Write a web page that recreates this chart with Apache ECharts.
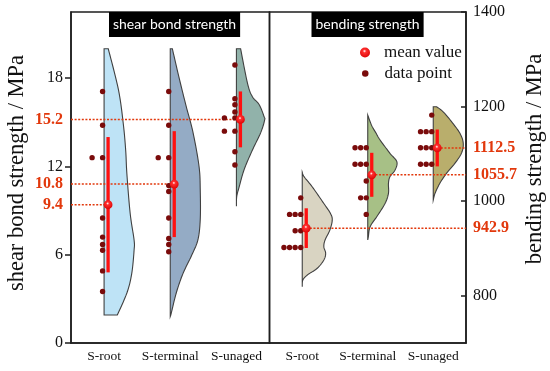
<!DOCTYPE html>
<html><head><meta charset="utf-8">
<script src="https://cdn.jsdelivr.net/npm/echarts@6/dist/echarts.min.js"></script>
<style>html,body{margin:0;padding:0;background:#fff}#c{width:550px;height:371px}</style>
</head><body><div id="c"></div>
<script>
// ---------------- data ----------------
const categories = ['S-root', 'S-terminal', 'S-unaged'];
const shearTicks = [0, 6, 12, 18];
const bendTicks = [800, 1000, 1200, 1400];

const shearRootPoints = [17.1, 14.8, 12.6, 12.6, 8.5, 7.2, 6.7, 6.3, 4.9, 3.5];
const shearTerminalPoints = [17.1, 14.8, 12.6, 12.6, 10.7, 10.3, 8.5, 7.1, 6.7, 6.2];
const shearUnagedPoints = [18.9, 16.6, 16.2, 15.7, 15.3, 15.3, 14.4, 14.4, 13.0, 12.1];

const bendRootPoints = [1007, 972, 972, 972, 937.5, 937.5, 902, 902, 902, 902];
const bendTerminalPoints = [1113, 1113, 1113, 1078, 1078, 1078, 1042.5, 1007, 1007, 972];
const bendUnagedPoints = [1182, 1147, 1147, 1147, 1113, 1113, 1113, 1078, 1078, 1078];

const shearMeans = [9.4, 10.8, 15.2];
const shearSD = [4.6, 3.6, 1.9];
const bendMeans = [942.9, 1055.7, 1112.5];
const bendSD = [42, 46.5, 39];

// violin outlines: [value, relative density]
const shearRootViolin = [[20.0,0.14],[17.2,0.48],[14.9,0.64],[13.1,0.72],[11.5,0.76],[8.8,0.87],[7.0,1.0],[6.3,1.0],[4.7,0.92],[3.4,0.76],[1.9,0.44]];
const shearTerminalViolin = [[20.0,0.07],[17.9,0.31],[16.1,0.53],[14.3,0.76],[12.0,0.96],[10.4,1.0],[8.4,1.0],[7.0,0.92],[5.9,0.70],[4.7,0.42],[3.4,0.2],[2.0,0.03],[1.8,0]];
const shearUnagedViolin = [[20.0,0.14],[17.65,0.37],[16.75,0.53],[16.2,0.76],[15.4,0.92],[15.15,0.94],[14.3,0.81],[13.1,0.53],[11.8,0.26],[10.6,0.09],[9.95,0.01],[9.3,0]];

const bendRootViolin = [[1061,0],[1051.7,0.06],[1030.5,0.33],[995,0.72],[974,0.94],[960,1.0],[938.9,0.92],[917.7,0.76],[903.6,0.72],[889.7,0.78],[875.5,0.72],[858,0.5],[843.8,0.17],[833,0.02],[819,0]];
const bendTerminalViolin = [[1182,0],[1160,0.13],[1143.4,0.28],[1129.3,0.41],[1101.2,0.74],[1083.4,0.97],[1065.8,0.91],[1051.7,0.74],[1037.7,0.69],[1016.6,0.69],[995.4,0.58],[967.1,0.3],[946,0.08],[924.8,0.02],[917.8,0]];
const bendUnagedViolin = [[1199.7,0.11],[1189,0.33],[1168,0.61],[1143.4,0.89],[1122.3,1.0],[1101.2,0.94],[1080,0.72],[1058.8,0.44],[1037.7,0.22],[1016.6,0.06],[1002.4,0]];

// ---------------- styles ----------------
const shearColors = ['#bee3f6', '#94abc5', '#91b2aa'];
const bendColors = ['#d9d4c2', '#a7c086', '#b9ae6c'];
const VIOLIN_W = 30;
const MEAN_DX = 4;
const DOT_COLOR = '#7a0b0b';
const REF_COLOR = '#e2380c';
const SERIF = 'Liberation Serif';
const ballGrad = {type:'radial', x:0.45, y:0.36, r:0.7, colorStops:[
  {offset:0, color:'#ffffff'},{offset:0.08, color:'#ffc0c0'},{offset:0.24, color:'#ff3030'},{offset:1, color:'#d80000'}]};

function catmull(pts, n) {
  const out = [];
  for (let i = 0; i < pts.length - 1; i++) {
    const p0 = pts[Math.max(i-1,0)], p1 = pts[i], p2 = pts[i+1], p3 = pts[Math.min(i+2, pts.length-1)];
    for (let t = 0; t < n; t++) {
      const s = t/n, s2 = s*s, s3 = s2*s;
      const f = (a,b,c,d) => 0.5*((2*b)+(-a+c)*s+(2*a-5*b+4*c-d)*s2+(-a+3*b-3*c+d)*s3);
      out.push([f(p0[0],p1[0],p2[0],p3[0]), f(p0[1],p1[1],p2[1],p3[1])]);
    }
  }
  out.push(pts[pts.length-1]);
  return out;
}

function violinSeries(ax, profiles, colors) {
  return {
    type:'custom', xAxisIndex:ax, yAxisIndex:ax, z:1, silent:true,
    data: profiles.map((p,i) => [i, p[0][0]]), encode:{x:0, y:1},
    renderItem(params, api) {
      const i = api.value(0);
      const prof = profiles[i];
      const cx = api.coord([i, prof[0][0]])[0];
      const edge = prof.map(([v,d]) => [cx + d*VIOLIN_W, api.coord([i, v])[1]]);
      const sm = catmull(edge, 10).map(p => [Math.max(p[0], cx), p[1]]);
      const pts = [[cx, edge[0][1]], ...sm, [cx, edge[edge.length-1][1]]];
      return {type:'polygon', shape:{points:pts}, style:{fill:colors[i], stroke:'#404040', lineWidth:1.1}};
    }
  };
}

function dotSeries(ax, groups, spacing) {
  const data = [];
  groups.forEach((g,i) => { const seen = {}; g.forEach(v => { const k = seen[v] || 0; seen[v] = k+1; data.push([i, v, k]); }); });
  return {
    type:'custom', name:'data point', xAxisIndex:ax, yAxisIndex:ax, z:3, data, encode:{x:0, y:1},
    itemStyle:{color:DOT_COLOR},
    renderItem(params, api) {
      const p = api.coord([api.value(0), api.value(1)]);
      return {type:'circle', shape:{cx:p[0]-1.5-api.value(2)*spacing, cy:p[1], r:2.7}, style:{fill:DOT_COLOR}};
    }
  };
}

function meanSeries(ax, means, sds) {
  return {
    type:'custom', name:'mean value', xAxisIndex:ax, yAxisIndex:ax, z:5,
    data: means.map((m,i) => [i, m, sds[i]]), encode:{x:0, y:1},
    itemStyle:{color:'#ff2222'},
    renderItem(params, api) {
      const i = api.value(0), m = api.value(1), s = api.value(2);
      const c = api.coord([i, m]), hi = api.coord([i, m+s]), lo = api.coord([i, m-s]);
      const x = c[0] + MEAN_DX;
      return {type:'group', children:[
        {type:'line', shape:{x1:x, y1:hi[1], x2:x, y2:lo[1]}, style:{stroke:'#ff1010', lineWidth:3.3}},
        {type:'circle', shape:{cx:x, cy:c[1], r:4.4}, style:{fill:ballGrad}}
      ]};
    }
  };
}

function refLineSeries(ax, means, side) {
  return {
    type:'custom', xAxisIndex:ax, yAxisIndex:ax, z:2, silent:true,
    data: means.map((m,i) => [i, m]), encode:{x:0, y:1},
    renderItem(params, api) {
      const c = api.coord([api.value(0), api.value(1)]);
      const cs = params.coordSys;
      const x = c[0] + MEAN_DX;
      const x1 = side === 'left' ? cs.x : x;
      const x2 = side === 'left' ? x : cs.x + cs.width;
      return {type:'line', shape:{x1, y1:c[1], x2, y2:c[1]}, style:{stroke:REF_COLOR, lineWidth:1.5, lineDash:[2,1.6]}};
    }
  };
}

const chart = echarts.init(document.getElementById('c'), null, {renderer:'canvas'});
const axisLineStyle = {color:'#1e1e1e', width:1.5};
const richLabels = {
  k:{fontFamily:SERIF, fontSize:16, color:'#111'},
  m:{fontFamily:SERIF, fontSize:16, fontWeight:'bold', color:REF_COLOR}
};
const xAxisCommon = {
  type:'category', data:categories, boundaryGap:true,
  axisLine:{lineStyle:axisLineStyle},
  axisTick:{inside:true, length:6, alignWithLabel:true, lineStyle:axisLineStyle},
  axisLabel:{fontFamily:SERIF, fontSize:13.5, color:'#111', margin:6, interval:0, hideOverlap:false},
  splitLine:{show:false}
};
const titleText = {color:'#fff', fontFamily:'Lato', fontSize:14, fontWeight:'normal', lineHeight:15};

chart.setOption({
  animation:false,
  backgroundColor:'#fff',
  title:[
    {text:'shear bond strength', left:109, top:12, backgroundColor:'#000', padding:[5,4,5,4], textStyle:titleText},
    {text:'bending strength', left:311.5, top:12, backgroundColor:'#000', padding:[5,4,5,4], textStyle:titleText}
  ],
  legend:[
    {data:[{name:'mean value', icon:'circle', itemStyle:{color:ballGrad}}], left:355, top:39, itemWidth:10, itemHeight:10,
     selectedMode:false, textStyle:{fontFamily:SERIF, fontSize:17, color:'#111', padding:[0,0,0,9]}},
    {data:[{name:'data point', icon:'circle', itemStyle:{color:DOT_COLOR}}], left:357, top:60, itemWidth:6.5, itemHeight:6.5,
     selectedMode:false, textStyle:{fontFamily:SERIF, fontSize:17, color:'#111', padding:[0,0,0,11]}}
  ],
  grid:[
    {left:71, top:12, width:198.5, height:331, show:true, borderColor:'#1e1e1e', borderWidth:1.5, containLabel:false},
    {left:269.5, top:12, width:196.5, height:331, show:true, borderColor:'#1e1e1e', borderWidth:1.5, containLabel:false}
  ],
  xAxis:[
    Object.assign({gridIndex:0}, xAxisCommon),
    Object.assign({gridIndex:1}, xAxisCommon)
  ],
  yAxis:[
    {gridIndex:0, type:'value', min:0, max:22.5, position:'left',
     name:'shear bond strength / MPa', nameLocation:'middle', nameRotate:90, nameGap:42,
     nameTextStyle:{fontFamily:SERIF, fontSize:22.5, color:'#111', padding:[0,0,0,9]},
     axisLine:{show:true, lineStyle:axisLineStyle},
     axisTick:{show:true, inside:false, length:6, customValues:shearTicks, lineStyle:axisLineStyle},
     axisLabel:{margin:8, customValues:[...shearTicks, ...shearMeans],
       formatter:v => shearTicks.includes(v) ? `{k|${v}}` : `{m|${v}}`, rich:richLabels},
     splitLine:{show:false}},
    {gridIndex:1, type:'value', min:700, max:1400, position:'right',
     name:'bending strength / MPa', nameLocation:'middle', nameRotate:90, nameGap:58,
     nameTextStyle:{fontFamily:SERIF, fontSize:22.5, color:'#111', padding:[0,0,0,37]},
     axisLine:{show:true, lineStyle:axisLineStyle},
     axisTick:{show:true, inside:true, length:5, customValues:bendTicks, lineStyle:axisLineStyle},
     axisLabel:{margin:7, customValues:[...bendTicks, ...bendMeans],
       formatter:v => bendTicks.includes(v) ? `{k|${v}}` : `{m|${v}}`, rich:richLabels},
     splitLine:{show:false}}
  ],
  series:[
    violinSeries(0, [shearRootViolin, shearTerminalViolin, shearUnagedViolin], shearColors),
    violinSeries(1, [bendRootViolin, bendTerminalViolin, bendUnagedViolin], bendColors),
    refLineSeries(0, shearMeans, 'left'),
    refLineSeries(1, bendMeans, 'right'),
    dotSeries(0, [shearRootPoints, shearTerminalPoints, shearUnagedPoints], 10.5),
    dotSeries(1, [bendRootPoints, bendTerminalPoints, bendUnagedPoints], 5.6),
    meanSeries(0, shearMeans, shearSD),
    meanSeries(1, bendMeans, bendSD)
  ]
});
</script>
</body></html>
